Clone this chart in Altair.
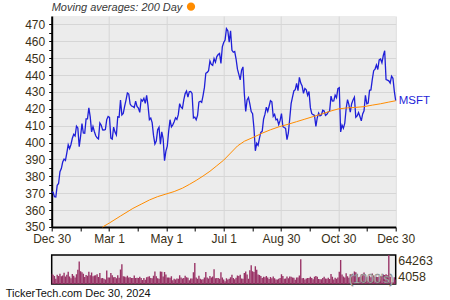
import altair as alt
import pandas as pd

# ---------------- data ----------------
close = [
    # Jan
    370.87, 370.60, 367.94, 367.75, 374.69, 375.79, 382.77, 384.63, 388.47, 390.27, 389.47,
    393.87, 398.67, 396.51, 398.90, 402.56, 404.87, 403.93, 409.72, 408.59, 397.58,
    # Feb
    403.78, 411.22, 405.65, 405.49, 414.05, 414.11, 420.55, 415.26, 406.32, 409.49,
    406.56, 404.06, 402.79, 402.18, 411.65, 410.34, 407.54, 407.48, 407.72, 413.64,
    # Mar
    415.50, 414.92, 402.65, 402.09, 409.14, 406.22, 404.52, 415.28, 415.10, 425.22,
    416.42, 417.32, 421.41, 425.23, 429.37, 428.74, 422.86, 421.65, 421.43, 420.72,
    # Apr
    424.57, 421.44, 420.45, 417.88, 425.52, 424.59, 426.28, 423.26, 427.93, 421.90, 413.64,
    414.58, 411.84, 404.27, 399.12, 400.96, 407.57, 409.06, 399.04, 406.32, 402.25, 389.33,
    # May
    394.94, 397.84, 406.66, 413.54, 409.34, 410.54, 412.32, 414.74, 413.72, 416.56, 423.08,
    420.99, 420.21, 425.34, 429.04, 430.52, 427.00, 430.16, 430.32, 429.17, 414.67, 415.13,
    # Jun
    413.52, 416.07, 424.01, 424.52, 423.85, 427.87, 432.68, 441.06, 441.58, 442.57,
    448.37, 446.34, 445.70, 449.78, 447.67, 450.95, 452.16, 452.85, 446.95,
    # Jul
    456.73, 459.28, 460.77, 467.56, 466.24, 459.54, 466.25, 454.70, 453.55, 453.96, 449.52,
    443.52, 440.37, 437.11, 442.94, 444.85, 428.90, 418.40, 425.27, 426.73, 422.92, 418.35,
    # Aug
    417.11, 408.49, 395.15, 399.61, 398.43, 402.69, 406.02, 406.81, 414.01, 416.86, 421.03,
    418.47, 421.53, 424.80, 424.14, 415.55, 416.79, 413.49, 413.84, 410.60, 413.12, 417.14,
    # Sep
    409.44, 408.90, 408.39, 401.70, 405.72, 414.20, 423.04, 427.00, 430.59, 431.34,
    435.15, 430.81, 438.69, 435.27, 433.51, 429.17, 432.11, 431.31, 428.02, 430.30,
    # Oct
    420.69, 417.13, 416.54, 416.06, 409.54, 414.71, 417.46, 415.84, 416.32, 419.14, 418.74, 416.12,
    416.72, 418.16, 418.78, 427.51, 424.60, 424.73, 428.15, 426.59, 431.95, 432.53, 406.35,
    # Nov
    410.37, 408.46, 411.46, 420.18, 425.43, 422.54, 418.01, 423.03, 425.20, 426.89,
    415.00, 415.76, 417.79, 415.49, 412.87, 417.00, 418.79, 427.99, 422.99, 423.46,
    # Dec
    430.98, 431.20, 437.42, 442.62, 443.57, 446.02, 443.33, 448.99, 449.56, 447.27,
    451.59, 454.46, 437.39, 437.03, 436.60, 435.25, 439.33, 438.11, 430.53, 424.83,
]

volume_k = [
    # Jan
    25258, 23083, 20902, 15090, 23134, 20830, 25514, 20010, 21661, 27202, 19698,
    23392, 29303, 19762, 16071, 24943, 21001, 17787, 24545, 33477, 50631,
    # Feb
    30657, 28290, 25419, 18382, 22714, 21208, 29392, 21971, 27778, 20378,
    21803, 22318, 24256, 18597, 27009, 16035, 16509, 14836, 13183, 31912,
    # Mar
    17646, 17598, 27026, 22345, 18166, 18426, 16124, 22457, 17116, 34157,
    45049, 20106, 19838, 17860, 21296, 17636, 18060, 16725, 16706, 21871,
    # Apr
    16329, 17279, 16502, 19327, 16600, 12296, 16405, 12930, 17973, 19253, 20273,
    16765, 15868, 21299, 30002, 20311, 15734, 15101, 29775, 29694, 19582, 28824,
    # May
    23562, 17709, 17446, 16964, 20019, 11611, 14693, 13402, 15440, 15109, 22239,
    17530, 15352, 16273, 21401, 18113, 17211, 11845, 15719, 15517, 28424, 47740,
    # Jun
    17485, 14752, 21001, 14840, 13630, 14000, 17600, 29200, 17500, 15400,
    20800, 17500, 19600, 34500, 15900, 16600, 16500, 14700, 28400,
    # Jul
    17700, 13400, 9900, 16000, 13600, 14700, 18200, 23100, 16300, 14100, 17200,
    21800, 20800, 23300, 15700, 15100, 26800, 29900, 23600, 15100, 32700, 42900,
    # Aug
    30300, 29100, 40700, 33600, 23900, 22600, 20600, 16400, 19200, 18000, 20900,
    17600, 14200, 18400, 16000, 19400, 16100, 13200, 13500, 14900, 16400, 24300,
    # Sep
    20400, 15100, 15300, 19600, 16000, 19600, 19000, 17400, 16900, 13100,
    17700, 17800, 21700, 55200, 16000, 16600, 13400, 15500, 16300, 16400,
    # Oct
    19100, 16600, 13700, 19100, 20900, 19200, 14200, 13800, 14100, 16700, 18900, 15500,
    14800, 17100, 14200, 25000, 19000, 13600, 16900, 14900, 17600, 29700, 53900,
    # Nov
    24000, 19700, 17300, 26500, 19900, 16900, 24500, 19400, 21500, 30200,
    28200, 24700, 18100, 19200, 23800, 24800, 27700, 23500, 18300, 10800,
    # Dec
    21300, 18300, 26000, 21700, 18800, 19100, 18500, 19600, 20000, 20200,
    23600, 22700, 24500, 22100, 64263, 19200, 7200, 8200, 18100, 13200,
]

# 200-day moving average (trading-day index, value)
ma_index = [37, 42, 50, 59, 65, 71, 77, 83, 89, 95, 100, 105, 110, 115, 120, 125, 130,
            135, 140, 147, 153, 159, 165, 172, 178, 184, 190, 196, 202, 208, 214, 220,
            227, 233, 239, 245, 250]
ma_value = [350.0, 352.4, 356.5, 361.0, 363.5, 366.0, 368.0, 369.5, 371.0, 373.0, 375.2,
            377.6, 380.2, 383.0, 386.3, 389.6, 393.8, 398.0, 400.8, 403.3, 405.6, 407.6,
            409.3, 410.9, 412.4, 413.9, 415.4, 416.9, 418.5, 419.9, 420.5, 420.8, 421.3,
            422.2, 423.0, 424.0, 424.8]

x_tick_labels = ["Dec 30", "Mar 1", "May 1", "Jul 1", "Aug 30", "Oct 30", "Dec 30"]
vol_labels = [4058, 64263]
symbol = "MSFT"
title_text = "Moving averages: 200 Day"
footer_text = "TickerTech.com  Dec 30, 2024"

# ---------------- frames ----------------
n = len(close)
last = n - 1
price_df = pd.DataFrame({"i": list(range(n)), "close": close})
ma_df = pd.DataFrame({"i": ma_index, "close": ma_value})
vol_df = pd.DataFrame({"i": list(range(len(volume_k))), "v": volume_k})

W, H, HV = 344, 211, 29
FONT = "Liberation Sans"
LABEL_COLOR = "#3a3118"

# x ticks: majors (labelled) and minors between them
x_vals = [k * last / 12 for k in range(13)]
lab_arr = []
for k in range(13):
    lab_arr.append(x_tick_labels[k // 2] if k % 2 == 0 else "")
labels_js = "[" + ",".join("'" + s + "'" for s in lab_arr) + "]"

xs = alt.Scale(domain=[0, last], nice=False, zero=False)
ys = alt.Scale(domain=[350, 475], nice=False, zero=False)

xaxis = alt.Axis(
    values=x_vals,
    labelExpr=labels_js + "[round(datum.value*12/" + str(last) + ")]",
    labelFlush=False,
    grid=True,
    gridColor="#d6d6d6",
    gridOpacity={"condition": {"test": "round(datum.value*12/" + str(last) + ") % 2 == 1", "value": 0}, "value": 1},
    tickSize=4, tickColor="black", tickWidth=1,
    domainColor="black", domainWidth=2,
    labelPadding=3, labelFont=FONT, labelFontSize=12, labelColor=LABEL_COLOR,
    labelOverlap=False, title=None,
)
yaxis = alt.Axis(
    values=list(range(350, 471, 5)),
    labelExpr="datum.value % 10 == 0 ? datum.label : ''",
    grid=True,
    gridColor="#d6d6d6",
    gridOpacity={"condition": {"test": "datum.value % 10 != 0", "value": 0}, "value": 1},
    tickSize=3, tickColor="black", tickWidth=1,
    domainColor="black", domainWidth=2,
    labelPadding=4, labelFont=FONT, labelFontSize=12, labelColor=LABEL_COLOR,
    labelOverlap=False, title=None,
)

X = alt.X("i:Q", scale=xs, axis=xaxis)
Y = alt.Y("close:Q", scale=ys, axis=yaxis)

price = alt.Chart(price_df).mark_line(color="#1f1fd8", strokeWidth=1.3).encode(x=X, y=Y)
ma = alt.Chart(ma_df).mark_line(color="#ff8c00", strokeWidth=1.0).encode(x=X, y=Y)
sym = alt.Chart(price_df).transform_filter(
    "datum.i == " + str(last)
).mark_text(align="left", baseline="middle", dx=3, font=FONT, fontSize=11.5, color="#1f1fd8").encode(
    x=X, y=Y, text=alt.value(symbol),
)
title = alt.Chart(pd.DataFrame({"t": [title_text]})).mark_text(
    align="left", baseline="alphabetic", font=FONT, fontSize=11, fontStyle="italic", color="#383838"
).encode(x=alt.value(0), y=alt.value(-5), text="t:N")
dot = alt.Chart(pd.DataFrame({"t": [title_text]})).mark_circle(
    color="#ff8c00", opacity=1, size=68
).encode(x=alt.value(139.3), y=alt.value(-9.3))

top = alt.layer(price, ma, sym, title, dot).properties(
    width=W, height=H,
    view=alt.ViewBackground(fill="#ececec", stroke=None),
)

vaxis = alt.Axis(
    orient="right", values=vol_labels, format="d", labelFlush=True, ticks=False, domain=False,
    grid=False, title=None, labelPadding=2, labelFont=FONT, labelFontSize=12.5,
    labelColor=LABEL_COLOR,
)
bars = alt.Chart(vol_df).transform_calculate(
    x0="datum.i - 0.5", x1="datum.i + 0.5"
).mark_rect(color="#993366", clip=True).encode(
    x=alt.X("x0:Q", scale=alt.Scale(domain=[0, last], nice=False, zero=False), axis=None),
    x2="x1:Q",
    y=alt.Y("v:Q", scale=alt.Scale(domain=[vol_labels[0], vol_labels[1]], nice=False, zero=False), axis=vaxis),
    y2=alt.datum(vol_labels[0]),
)
units = alt.Chart(pd.DataFrame({"t": ["(1000's)"]})).mark_text(
    align="right", baseline="alphabetic", font=FONT, fontSize=12.5,
    fill="#dcdfdc", stroke="#666666", strokeWidth=0.4,
).encode(x=alt.value(W - 2), y=alt.value(HV - 1), text="t:N")
footer = alt.Chart(pd.DataFrame({"t": [footer_text]})).mark_text(
    align="left", baseline="alphabetic", font=FONT, fontSize=11, color="#111111",
).encode(x=alt.value(-46), y=alt.value(HV + 12.7), text="t:N")

bottom = alt.layer(bars, units, footer).properties(
    width=W, height=HV,
    view=alt.ViewBackground(fill="#eeeeee", stroke="black", strokeWidth=1.5),
)

chart = alt.vconcat(top, bottom, spacing=9).properties(
    padding={"left": 4.7, "top": 2, "right": 0, "bottom": 0},
    background="white",
)

chart.save("out.html", embed_options={"renderer": "svg", "actions": False})
